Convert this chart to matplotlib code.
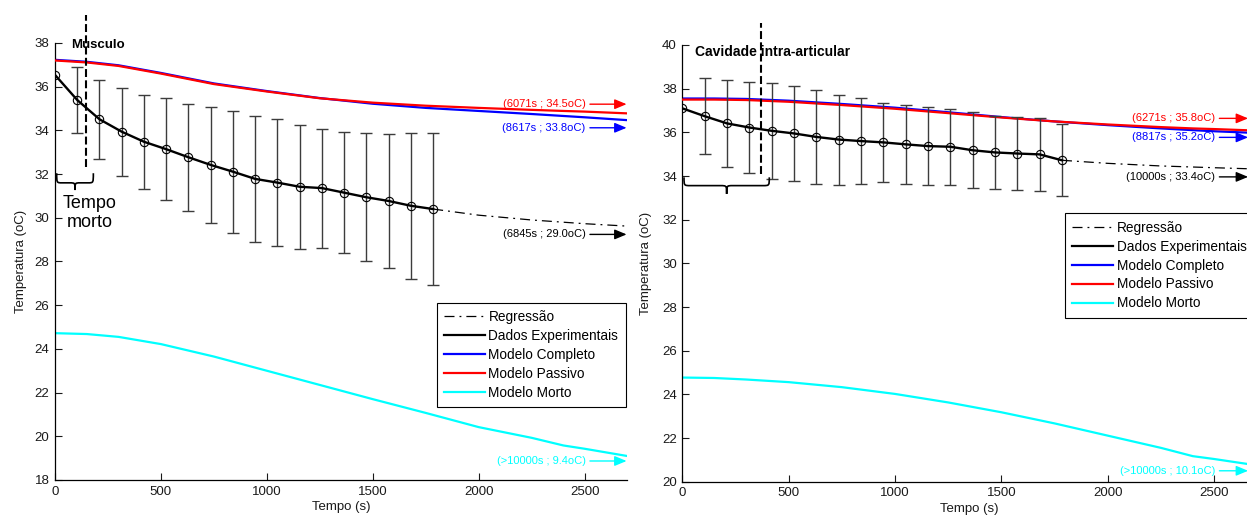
import numpy as np
import matplotlib
matplotlib.use("Agg")
import matplotlib.pyplot as plt
from matplotlib.path import Path
from matplotlib.patches import PathPatch
from matplotlib.lines import Line2D

plt.rcParams['font.family'] = ['Liberation Sans', 'DejaVu Sans']

# ---------------- data ----------------
# experimental sampling instants (s)
t_exp = [0, 105, 210, 315, 420, 525, 630, 735, 840, 945, 1050, 1155,
         1260, 1365, 1470, 1575, 1680, 1785]

# Musculo: mean temperature and standard deviation
musc_mean = [36.54, 35.39, 34.51, 33.94, 33.48, 33.14, 32.77, 32.42, 32.11,
             31.78, 31.61, 31.42, 31.36, 31.15, 30.94, 30.77, 30.55, 30.40]
musc_sd = [0.0, 1.51, 1.81, 2.02, 2.16, 2.32, 2.45, 2.64, 2.80, 2.88, 2.92,
           2.85, 2.72, 2.76, 2.92, 3.07, 3.35, 3.49]

# Cavidade intra-articular: mean temperature and standard deviation
cav_mean = [37.10, 36.74, 36.41, 36.22, 36.07, 35.95, 35.79, 35.67, 35.60,
            35.54, 35.45, 35.37, 35.34, 35.18, 35.08, 35.03, 34.99, 34.72]
cav_sd = [0.0, 1.74, 1.99, 2.10, 2.20, 2.17, 2.14, 2.06, 1.97, 1.81, 1.80,
          1.79, 1.75, 1.74, 1.68, 1.67, 1.67, 1.65]

# model simulations (s, oC)
t_mod = [0, 150, 300, 500, 750, 1000, 1250, 1500, 1750, 2000, 2250, 2400, 2500, 2700]
musc_completo = [37.23, 37.14, 36.98, 36.63, 36.15, 35.80, 35.48, 35.22, 35.03,
                 34.89, 34.75, 34.66, 34.60, 34.47]
musc_passivo = [37.20, 37.11, 36.95, 36.60, 36.12, 35.78, 35.47, 35.27, 35.13,
                35.03, 34.94, 34.89, 34.86, 34.78]
musc_morto = [24.72, 24.68, 24.55, 24.22, 23.65, 23.00, 22.35, 21.70, 21.07,
              20.42, 19.93, 19.58, 19.43, 19.10]
cav_completo = [37.55, 37.55, 37.53, 37.45, 37.30, 37.13, 36.92, 36.70, 36.50,
                36.33, 36.18, 36.10, 36.05, 35.97]
cav_passivo = [37.50, 37.50, 37.48, 37.40, 37.25, 37.08, 36.88, 36.68, 36.50,
               36.36, 36.24, 36.18, 36.15, 36.08]
cav_morto = [24.77, 24.75, 24.68, 24.56, 24.33, 24.02, 23.63, 23.18, 22.67,
             22.11, 21.55, 21.17, 21.04, 20.75]

# regression extrapolation beyond the last measurement
t_reg = [1785, 2000, 2250, 2500, 2700]
musc_reg = [30.40, 30.12, 29.90, 29.73, 29.62]
cav_reg = [34.72, 34.58, 34.46, 34.38, 34.32]

# equilibrium notes (label, height)
musc_notes = [("(6071s ; 34.5oC)", 35.20, "#ff0000"),
              ("(8617s ; 33.8oC)", 34.12, "#0000ff"),
              ("(6845s ; 29.0oC)", 29.24, "black"),
              ("(>10000s ; 9.4oC)", 18.87, "#00ffff")]
cav_notes = [("(6271s ; 35.8oC)", 36.64, "#ff0000"),
             ("(8817s ; 35.2oC)", 35.77, "#0000ff"),
             ("(10000s ; 33.4oC)", 33.96, "black"),
             ("(>10000s ; 10.1oC)", 20.50, "#00ffff")]

labels = ["Regressão", "Dados Experimentais", "Modelo Completo",
          "Modelo Passivo", "Modelo Morto"]

W, H = 1247, 519
fig = plt.figure(figsize=(W / 100, H / 100), dpi=100)
ax1 = fig.add_axes([55 / W, 39 / H, 572 / W, 437 / H])
ax2 = fig.add_axes([682.3 / W, 37.3 / H, 574.3 / W, 436.7 / H])


def brace(ax, x0, x1, y_top, y_mid, y_tip, w):
    xc = 0.5 * (x0 + x1)
    verts = [(x0, y_top), (x0, y_mid), (x0, y_mid), (x0 + w, y_mid),
             (xc - w, y_mid), (xc, y_mid), (xc, y_mid), (xc, y_tip),
             (xc, y_mid), (xc, y_mid), (xc + w, y_mid),
             (x1 - w, y_mid), (x1, y_mid), (x1, y_mid), (x1, y_top)]
    codes = [Path.MOVETO, Path.CURVE4, Path.CURVE4, Path.CURVE4,
             Path.LINETO, Path.CURVE4, Path.CURVE4, Path.CURVE4,
             Path.CURVE4, Path.CURVE4, Path.CURVE4,
             Path.LINETO, Path.CURVE4, Path.CURVE4, Path.CURVE4]
    ax.add_patch(PathPatch(Path(verts, codes), fc='none', ec='black', lw=1.2,
                           clip_on=False, zorder=6))


def panel(ax, mean, sd, completo, passivo, morto, reg, notes, ylim,
          arrow_end, ylab_px):
    ax.set_xlim(0, 2700)
    ax.set_ylim(*ylim)
    ax.set_xticks(range(0, 2501, 500))
    ax.set_yticks(range(ylim[0], ylim[1] + 1, 2))
    for s in ("top", "right"):
        ax.spines[s].set_visible(False)
    for s in ("left", "bottom"):
        ax.spines[s].set_linewidth(0.9)
    ax.tick_params(direction='in', length=5, width=0.8, labelsize=9.5,
                   colors='#1a1a1a', pad=4)

    ax.plot(t_mod, morto, color='#00ffff', lw=1.6, zorder=2)
    ax.plot(t_mod, completo, color='#0000ff', lw=1.6, zorder=2)
    ax.plot(t_mod, passivo, color='#ff0000', lw=1.6, zorder=3)
    ax.plot(t_reg, reg, color='black', lw=0.9, linestyle=(0, (8, 4, 1.5, 4)),
            zorder=3)

    idx = [i for i, e in enumerate(sd) if e > 0]
    ax.errorbar([t_exp[i] for i in idx], [mean[i] for i in idx],
                yerr=[sd[i] for i in idx], fmt='none', ecolor='#3c3c3c',
                elinewidth=1.0, capsize=4, capthick=1.0, zorder=4)
    ax.plot(t_exp, mean, color='black', lw=1.7, zorder=5)
    ax.plot(t_exp, mean, 'o', mfc='none', mec='black', ms=6, mew=0.8, zorder=6)

    for text, y, c in notes:
        ax.text(2505, y, text, ha='right', va='center', color=c, fontsize=8,
                clip_on=False)
        ax.annotate('', xy=(arrow_end, y), xytext=(2525, y),
                    arrowprops=dict(arrowstyle='-|>,head_length=0.6,head_width=0.25',
                                    color=c, lw=1.0, shrinkA=0, shrinkB=0,
                                    mutation_scale=12))

    ax.set_xlabel('Tempo (s)', fontsize=9.5, color='#1a1a1a')
    ax.xaxis.set_label_coords(0.5, -21 / 437)
    ax.set_ylabel('Temperatura (oC)', fontsize=9.5, color='#1a1a1a')
    ax.yaxis.set_label_coords(-ylab_px / 572, 0.5)

    handles = [Line2D([], [], color='black', lw=0.9, linestyle=(0, (8, 4, 1.5, 4))),
               Line2D([], [], color='black', lw=1.6),
               Line2D([], [], color='#0000ff', lw=1.6),
               Line2D([], [], color='#ff0000', lw=1.6),
               Line2D([], [], color='#00ffff', lw=1.6)]
    return handles


h1 = panel(ax1, musc_mean, musc_sd, musc_completo, musc_passivo, musc_morto,
           musc_reg, musc_notes, (18, 38), 2698, 28)
h2 = panel(ax2, cav_mean, cav_sd, cav_completo, cav_passivo, cav_morto,
           cav_reg, cav_notes, (20, 40), 2660, 30)

# titles inside the axes
ax1.text(75, 37.93, 'Musculo', fontweight='bold', fontsize=9.5, va='center',
         zorder=7)
ax2.text(60, 39.66, 'Cavidade intra-articular', fontweight='bold', fontsize=10,
         va='center', zorder=7)

# dead-time markers
ax1.plot([148, 148], [32.34, 39.28], color='black', lw=1.5,
         linestyle=(0, (3.8, 1.6)), clip_on=False, zorder=8)
ax2.plot([370, 370], [34.11, 41.0], color='black', lw=1.5,
         linestyle=(0, (3.8, 1.6)), clip_on=False, zorder=8)
brace(ax1, 8, 181, 32.04, 31.60, 31.27, 25)
brace(ax2, 8, 409, 33.94, 33.56, 33.18, 30)
ax1.text(163, 30.22, 'Tempo\nmorto', ha='center', va='center', fontsize=13,
         linespacing=1.15)

leg_kw = dict(loc='upper left', bbox_transform=fig.transFigure, fontsize=9.8,
              frameon=True, fancybox=False, framealpha=1, edgecolor='black',
              handlelength=3.0, handletextpad=0.25, borderpad=0.55,
              labelspacing=0.36, borderaxespad=0)
l1 = ax1.legend(h1, labels, bbox_to_anchor=(436.7 / W, 1 - 302.7 / H), **leg_kw)
l2 = ax2.legend(h2, labels, bbox_to_anchor=(1065 / W, 1 - 213.3 / H), **leg_kw)
for lg in (l1, l2):
    lg.get_frame().set_linewidth(0.8)
    lg.set_zorder(10)

fig.savefig('out.png', dpi=100)
